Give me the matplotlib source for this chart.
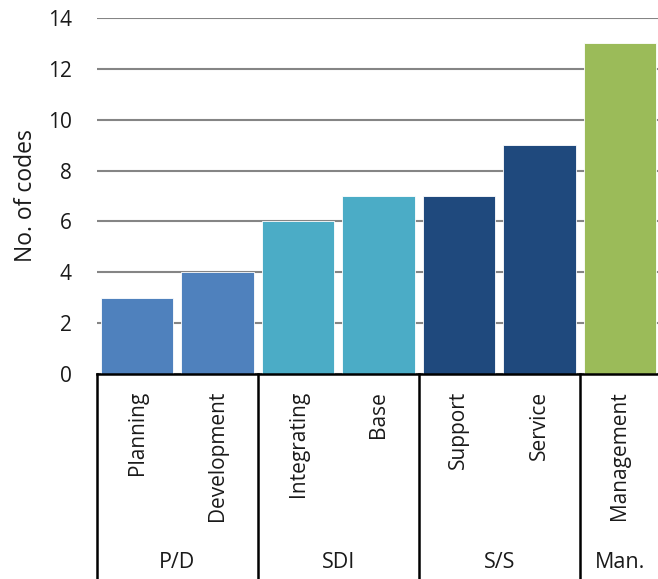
import matplotlib
matplotlib.use("Agg")
import matplotlib.pyplot as plt
import matplotlib.transforms as mtransforms

plt.rcParams['font.family'] = ['Open Sans', 'DejaVu Sans']

categories = ["Planning", "Development", "Integrating", "Base", "Support", "Service", "Management"]
values = [3, 4, 6, 7, 7, 9, 13]
groups = ["P/D", "SDI", "S/S", "Man."]
group_sizes = [2, 2, 2, 1]
group_colors = ["#4F81BD", "#4BACC6", "#1F497D", "#9BBB59"]
yticks = [0, 2, 4, 6, 8, 10, 12, 14]

W, H = 658, 579
fig = plt.figure(figsize=(W / 100, H / 100), dpi=100)
left, right, top, bottom = 97, 660, 18, 374
ax = fig.add_axes([left / W, (H - bottom) / H, (right - left) / W, (bottom - top) / H])

colors = []
for c, n in zip(group_colors, group_sizes):
    colors += [c] * n

x = list(range(len(categories)))
ax.bar(x, values, width=0.9, color=colors, edgecolor="white", linewidth=0.6, zorder=3)

ax.set_xlim(-0.5, len(categories) - 0.5)
ax.set_ylim(0, 14)
ax.set_yticks(yticks)
ax.set_yticklabels([str(t) for t in yticks], fontsize=15, color="#1a1a1a")
ax.tick_params(axis="y", length=0, pad=18)
ax.set_xticks([])
ax.yaxis.grid(True, color="#858585", linewidth=1.5, zorder=0)
for s in ["left", "right", "top"]:
    ax.spines[s].set_visible(False)
ax.spines["bottom"].set_color("black")
ax.spines["bottom"].set_linewidth(1.8)
ax.spines["bottom"].set_zorder(4)
ax.set_ylabel("No. of codes", fontsize=16.5, color="#1a1a1a", labelpad=7)

# multi-level category axis below the plot
trans = mtransforms.blended_transform_factory(ax.transData, ax.transAxes)
span = bottom - top
box_bottom = -(H + 3 - bottom) / span
bounds = [-0.5]
for n in group_sizes:
    bounds.append(bounds[-1] + n)
for b in bounds:
    ax.plot([b, b], [0, box_bottom], transform=trans, color="black",
            linewidth=1.8, clip_on=False, zorder=4)
ax.plot([bounds[0], bounds[-1]], [box_bottom, box_bottom], transform=trans,
        color="black", linewidth=1.8, clip_on=False)

for xi, name in zip(x, categories):
    ax.text(xi, -(391 - bottom) / span, name, transform=trans, rotation=90,
            ha="center", va="top", fontsize=15, color="#1a1a1a")

for g, b0, b1 in zip(groups, bounds[:-1], bounds[1:]):
    ax.text((b0 + b1) / 2, -(563 - bottom) / span, g, transform=trans,
            ha="center", va="center", fontsize=15.5, color="#1a1a1a")

fig.savefig("out.png", dpi=100)
